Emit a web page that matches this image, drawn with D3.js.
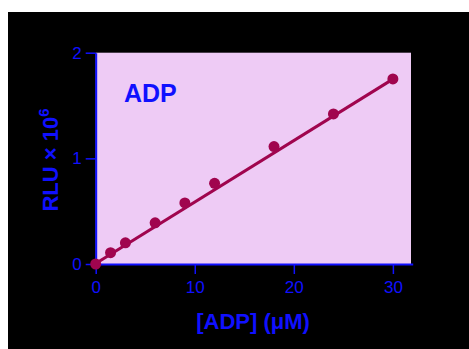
<!DOCTYPE html>
<html lang="en">
<head>
<meta charset="utf-8">
<title>ADP standard curve</title>
<script src="https://cdn.jsdelivr.net/npm/d3@7"></script>
<style>
  html, body { margin: 0; padding: 0; background: #fff; }
  svg { display: block; font-family: "Liberation Sans", Arial, sans-serif; }
</style>
</head>
<body>
<script>

// ADP concentration (uM) and luminescence (RLU x 10^6)
var adpConc = [0, 1.5, 3, 6, 9, 12, 18, 24, 30];
var rluValues = [0, 0.107, 0.20, 0.39, 0.578, 0.764, 1.111, 1.42, 1.752];

// linear fit drawn through the points
var fitX = [0, 30];
var fitY = [0.005, 1.75];

var xTicks = [0, 10, 20, 30];
var yTicks = [0, 1, 2];

var W = 469, H = 349;
// plot box edges (note: "top" is taken by window.top, so prefix these)
var plotL = 95.7, plotT = 52.7, plotR = 411, plotB = 264;
var axisBlue = "#1010ff";
var dotColor = "#a0054e";

var svg = d3.select("body").append("svg")
    .attr("width", W)
    .attr("height", H);

// black frame with white strip at top and left
svg.append("rect")
    .attr("x", 8).attr("y", 12)
    .attr("width", W - 8).attr("height", H - 12)
    .attr("fill", "#000");

var x = d3.scaleLinear().domain([0, 32]).range([plotL, plotR + 1.7]);
var y = d3.scaleLinear().domain([0, 2]).range([plotB, plotT]);

// plot background
svg.append("rect")
    .attr("x", plotL).attr("y", plotT)
    .attr("width", plotR - plotL).attr("height", plotB - plotT)
    .attr("fill", "#eecbf5");

var xAxis = svg.append("g")
    .attr("transform", "translate(0," + plotB + ")")
    .call(d3.axisBottom(x).tickValues(xTicks).tickFormat(d3.format("d"))
      .tickSize(10).tickPadding(7).tickSizeOuter(0));

var yAxis = svg.append("g")
    .attr("transform", "translate(" + plotL + ",0)")
    .call(d3.axisLeft(y).tickValues(yTicks).tickFormat(d3.format("d"))
      .tickSize(10).tickPadding(4).tickSizeOuter(0));

[xAxis, yAxis].forEach(function(g) {
  g.select(".domain").attr("stroke", axisBlue).attr("stroke-width", 2);
  g.selectAll(".tick line").attr("stroke", axisBlue).attr("stroke-width", 1.5);
  g.selectAll(".tick text")
      .attr("fill", axisBlue)
      .style("font-size", "17px")
      .style("font-family", "Liberation Sans, Arial, sans-serif");
});

// fit line
var line = d3.line()
    .x(function(d) { return x(d[0]); })
    .y(function(d) { return y(d[1]); });

svg.append("path")
    .datum(d3.zip(fitX, fitY))
    .attr("d", line)
    .attr("fill", "none")
    .attr("stroke", dotColor)
    .attr("stroke-width", 3);

// data points
svg.selectAll("circle.pt")
    .data(d3.zip(adpConc, rluValues))
    .enter()
    .append("circle")
    .attr("class", "pt")
    .attr("cx", function(d) { return x(d[0]); })
    .attr("cy", function(d) { return y(d[1]); })
    .attr("r", 5.5)
    .attr("fill", dotColor);

// in-plot label
svg.append("text")
    .attr("x", 124)
    .attr("y", 101.5)
    .attr("fill", axisBlue)
    .style("font-size", "25px")
    .style("font-weight", "bold")
    .text("ADP");

// x axis title
svg.append("text")
    .attr("x", 253)
    .attr("y", 329)
    .attr("text-anchor", "middle")
    .attr("fill", axisBlue)
    .style("font-size", "22px")
    .style("font-weight", "bold")
    .text("[ADP] (\u03bcM)");

// y axis title, rotated
var yTitle = svg.append("text")
    .attr("transform", "translate(58,160) rotate(-90)")
    .attr("text-anchor", "middle")
    .attr("fill", axisBlue)
    .style("font-size", "22px")
    .style("font-weight", "bold");
yTitle.append("tspan").text("RLU \u00d7 10");
yTitle.append("tspan")
    .attr("dy", -9)
    .style("font-size", "15px")
    .text("6");

</script>
</body>
</html>
